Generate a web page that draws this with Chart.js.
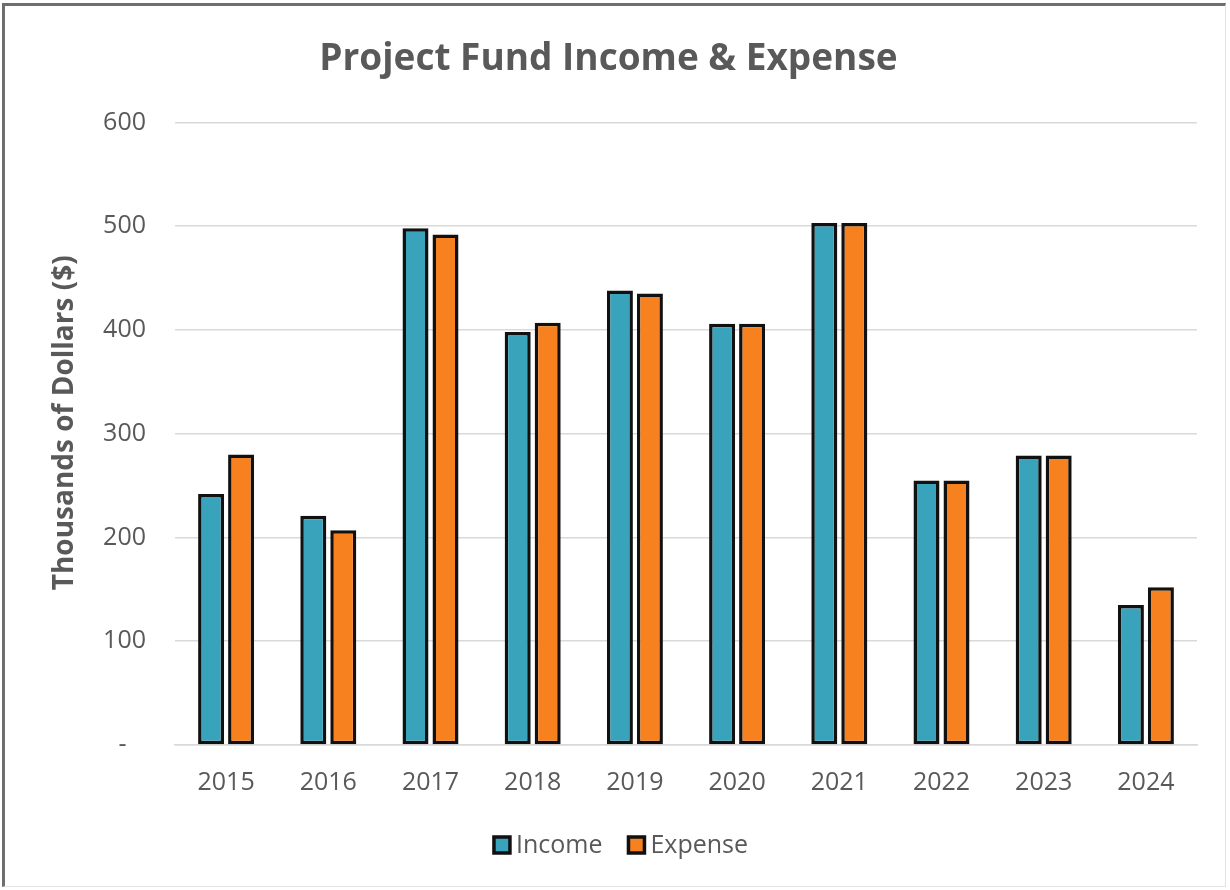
<!DOCTYPE html>
<html>
<head>
<meta charset="utf-8">
<title>Project Fund Income &amp; Expense</title>
<script src="https://cdn.jsdelivr.net/npm/chart.js@4"></script>
<style>
  html, body { margin: 0; padding: 0; background: #ffffff; }
  #wrap { position: relative; width: 1230px; height: 890px; }
  #frame {
    position: absolute; left: 2px; top: 3px; width: 1224px; height: 884px;
    box-sizing: border-box;
    border-left: 3px solid #6e6e6e; border-top: 3px solid #6e6e6e;
    border-right: 1px solid #e2e2e2; border-bottom: 1px solid #e2e2e2;
    pointer-events: none;
  }
  canvas { position: absolute; left: 0; top: 0; }
</style>
</head>
<body>
<div id="wrap">
  <canvas id="chart" width="1230" height="890"></canvas>
  <div id="frame"></div>
</div>
<script>
// Fiscal years on the category axis
const years = ['2015', '2016', '2017', '2018', '2019', '2020', '2021', '2022', '2023', '2024'];

// Thousands of dollars per year
const income  = [242, 221, 498, 398, 438, 406, 503, 255, 279, 135];
const expense = [280, 207, 492, 407, 435, 406, 503, 255, 279, 152];

// Value axis ticks
const yTicks = [0, 100, 200, 300, 400, 500, 600];

const FONT = "'Open Sans', 'DejaVu Sans', sans-serif";
const GREY = '#595959';
const EDGE = '#111111';

// Compact legend centred under the chart: square swatch, short gap, label
const compactLegend = {
  id: 'compactLegend',
  afterDraw(chart, args, opts) {
    const ctx = chart.ctx;
    const box = opts.boxSize;
    ctx.save();
    ctx.font = `${opts.fontSize}px ${FONT}`;
    ctx.textBaseline = 'middle';
    ctx.textAlign = 'left';
    const items = chart.data.datasets.map(ds => ({
      text: ds.label,
      fill: ds.backgroundColor,
      w: box + opts.textGap + ctx.measureText(ds.label).width
    }));
    const total = items.reduce((s, it) => s + it.w, 0) + opts.itemGap * (items.length - 1);
    let x = opts.centerX - total / 2;
    const y = opts.centerY;
    items.forEach(it => {
      ctx.fillStyle = it.fill;
      ctx.strokeStyle = EDGE;
      ctx.lineWidth = 3.5;
      ctx.fillRect(x, y - box / 2, box, box);
      ctx.strokeRect(x, y - box / 2, box, box);
      ctx.fillStyle = GREY;
      ctx.fillText(it.text, x + box + opts.textGap, y + 1);
      x += it.w + opts.itemGap;
    });
    ctx.restore();
  }
};

new Chart(document.getElementById('chart'), {
  type: 'bar',
  data: {
    labels: years,
    datasets: [
      {
        label: 'Income',
        data: income,
        backgroundColor: '#3aa3bc',
        borderColor: EDGE,
        borderWidth: 3.5,
        borderSkipped: false,
        categoryPercentage: 0.587,
        barPercentage: 0.867
      },
      {
        label: 'Expense',
        data: expense,
        backgroundColor: '#f7801f',
        borderColor: EDGE,
        borderWidth: 3.5,
        borderSkipped: false,
        categoryPercentage: 0.587,
        barPercentage: 0.867
      }
    ]
  },
  plugins: [compactLegend],
  options: {
    responsive: false,
    animation: false,
    devicePixelRatio: 1,
    layout: { padding: { top: 20, left: 20, right: 33, bottom: 78 } },
    plugins: {
      title: {
        display: true,
        text: 'Project Fund Income & Expense',
        color: GREY,
        font: { family: FONT, size: 37, weight: 'bold' },
        padding: { top: 17, bottom: 41 }
      },
      legend: { display: false },
      compactLegend: {
        fontSize: 25,
        boxSize: 16,
        textGap: 6,
        itemGap: 26,
        centerX: 621,
        centerY: 845
      },
      tooltip: { enabled: false }
    },
    scales: {
      x: {
        grid: { display: false, drawTicks: false },
        border: { color: '#d9d9d9', width: 1.5 },
        ticks: {
          color: GREY,
          font: { family: FONT, size: 25 },
          padding: 23
        },
        afterFit(scale) { scale.height = 67; }
      },
      y: {
        min: 0,
        max: 600,
        afterBuildTicks(scale) {
          scale.ticks = yTicks.map(v => ({ value: v }));
        },
        grid: { color: '#d9d9d9', lineWidth: 1.5, drawTicks: false },
        border: { display: false },
        ticks: {
          color: GREY,
          font: { family: FONT, size: 25 },
          padding: 29,
          callback: v => (v === 0 ? '-   ' : String(v))
        },
        title: {
          display: true,
          text: '   Thousands of Dollars ($)',
          color: GREY,
          font: { family: FONT, size: 28, weight: 'bold' },
          padding: { top: 28, bottom: 0 }
        },
        afterFit(scale) { scale.width = 155; }
      }
    }
  }
});
</script>
</body>
</html>
